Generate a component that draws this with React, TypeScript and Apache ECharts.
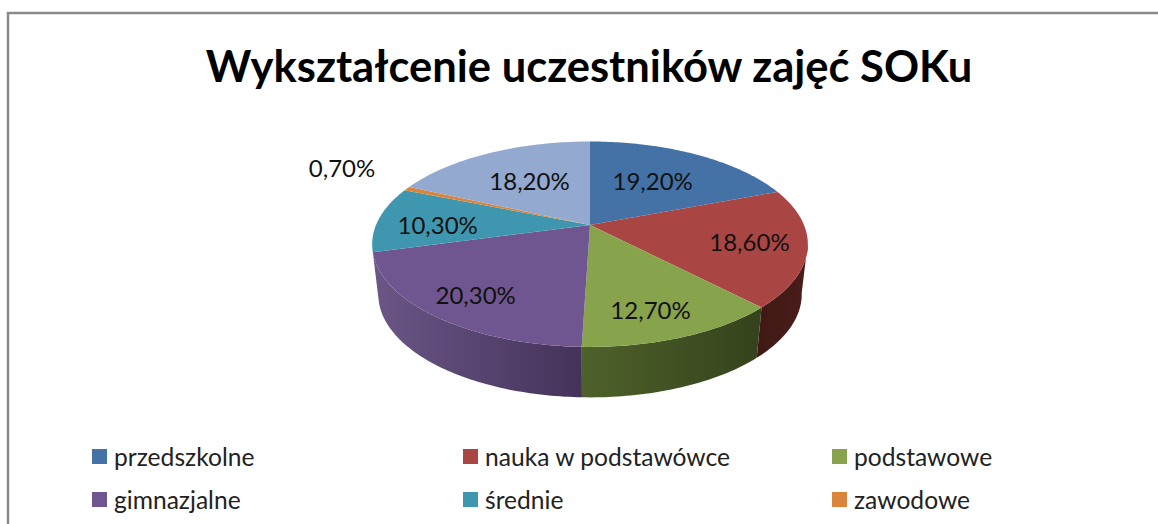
import React, { useEffect, useRef } from "react";
import * as echarts from "echarts";

const title = "Wykształcenie uczestników zajęć SOKu";
const categories = ["przedszkolne", "nauka w podstawówce", "podstawowe", "gimnazjalne", "średnie", "zawodowe", "wyższe"];
const values = [19.2, 18.6, 12.7, 20.3, 10.3, 0.7, 18.2];
const topColors = ["#4472A7", "#A94543", "#87A44D", "#6F5690", "#3F97AF", "#DA843C", "#93A9CF"];

// Wall shading: [left, right] colours of the visible side of each slice
const wallColors: (string[] | null)[] = [
  null,
  ["#3f1915", "#4a1d19"],
  ["#4e612a", "#35421c"],
  ["#6b5686", "#44325a"],
  null,
  null,
  null,
];

// Label nudges from the computed anchor on each slice (px)
const labelNudges = [[-4, 0], [31, 3], [9, 23], [-27, 18], [-25, 3], [-135, -35], [3, 1]];
const LABEL_RADIUS = 0.6;

// Legend layout: one entry per cell; 7th entry is cropped by the page in the reference
const legendCells = [[92, 444], [463, 444], [832, 444], [92, 487], [463, 487], [832, 487]];

// Perspective disc projection
const P = 0.187;
const TOP = { cx: 590, cy: 225, a: 214, b: 99.1 };
const BOTTOM = { cx: 590, cy: 275, a: 208, b: 99.5 };
const WALL_FROM = 100;
const WALL_TO = 255;

function project(disc: typeof TOP, deg: number, r = 1): number[] {
  const t = (deg * Math.PI) / 180;
  const w = 1 + P * r * Math.cos(t);
  return [disc.cx + (disc.a * r * Math.sin(t)) / w, disc.cy - (disc.b * r * Math.cos(t)) / w];
}

function arcPoints(disc: typeof TOP, from: number, to: number): number[][] {
  const pts: number[][] = [];
  const n = Math.max(2, Math.ceil(to - from));
  for (let i = 0; i <= n; i++) pts.push(project(disc, from + ((to - from) * i) / n));
  return pts;
}

const total = values.reduce((a, b) => a + b, 0);
const starts: number[] = [];
values.reduce((acc, v, i) => {
  starts[i] = (acc / total) * 360;
  return acc + v;
}, 0);

const fmt = (v: number) => v.toFixed(2).replace(".", ",") + "%";
const FONT = 'Lato, "Open Sans", sans-serif';

export default function App() {
  const ref = useRef<HTMLDivElement>(null);
  useEffect(() => {
    document.body.style.margin = "0";
    document.body.style.background = "#fff";
    const chart = echarts.init(ref.current!, undefined, { renderer: "svg" });
    const series = categories.map((name, i) => ({
      type: "custom",
      name,
      coordinateSystem: "none",
      silent: true,
      itemStyle: { color: topColors[i] },
      data: [{ name, value: values[i] }],
      renderItem: (_p: any, api: any) => {
        const sweep = (api.value(0) / total) * 360;
        const from = starts[i];
        const to = from + sweep;
        const children: any[] = [];
        const wf = Math.max(from, WALL_FROM);
        const wt = Math.min(to, WALL_TO);
        const wall = wallColors[i];
        if (wall && wt > wf) {
          const pts = [...arcPoints(TOP, wf, wt), ...arcPoints(BOTTOM, wf, wt).reverse()];
          children.push({
            type: "polygon",
            shape: { points: pts },
            style: {
              fill: new echarts.graphic.LinearGradient(0, 0, 1, 0, [
                { offset: 0, color: wall[0] },
                { offset: 1, color: wall[1] },
              ]),
            },
          });
        }
        children.push({
          type: "polygon",
          shape: { points: [[TOP.cx, TOP.cy], ...arcPoints(TOP, from, to)] },
          style: { fill: topColors[i] },
        });
        const anchor = project(TOP, (from + to) / 2, LABEL_RADIUS);
        children.push({
          type: "text",
          x: anchor[0] + labelNudges[i][0],
          y: anchor[1] + labelNudges[i][1],
          z2: 10,
          style: {
            text: fmt(values[i]),
            fill: "#111",
            font: `24px ${FONT}`,
            align: "center",
            verticalAlign: "middle",
          },
        });
        return { type: "group", children };
      },
    }));

    chart.setOption({
      animation: false,
      backgroundColor: "#ffffff",
      title: {
        text: title,
        left: 584,
        top: 38,
        textAlign: "center",
        textStyle: { fontFamily: FONT, fontSize: 43.5, fontWeight: "bold", color: "#000" },
      },
      legend: legendCells.map((cell, i) => ({
        show: true,
        data: [categories[i]],
        left: cell[0],
        top: cell[1],
        padding: 0,
        icon: "rect",
        itemWidth: 15,
        itemHeight: 15,
        itemGap: 0,
        selectedMode: false,
        textStyle: { fontFamily: FONT, fontSize: 24.6, color: "#222", padding: [0, 0, 0, 2] },
      })),
      graphic: [
        {
          type: "rect",
          silent: true,
          shape: { x: 8, y: 13, width: 1300, height: 700 },
          style: { fill: "none", stroke: "#8a8a8a", lineWidth: 2.5 },
        },
      ],
      series,
    });
    return () => chart.dispose();
  }, []);
  return <div ref={ref} style={{ width: 1158, height: 524 }} />;
}
